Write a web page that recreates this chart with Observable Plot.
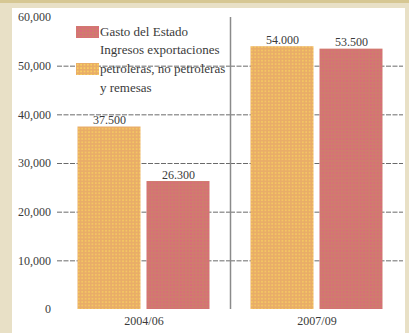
<!DOCTYPE html>
<html>
<head>
<meta charset="utf-8">
<script src="https://cdn.jsdelivr.net/npm/d3@7"></script>
<script src="https://cdn.jsdelivr.net/npm/@observablehq/plot@0.6"></script>
<style>
  html, body { margin: 0; padding: 0; }
  body { width: 409px; height: 333px; background: #e8e0c6; position: relative; overflow: hidden; font-family: "Liberation Serif", "Times New Roman", Tinos, "DejaVu Serif", serif; }
  #topband { position: absolute; left: 0; top: 0; width: 409px; height: 3px; background: #d6c793; }
  #chart { position: absolute; left: 12px; top: 8px; }
  #legend { position: absolute; left: 76px; top: 22px; font-size: 13px; color: #3a3a3a; line-height: 19px; }
  .row { position: relative; padding-left: 24px; white-space: nowrap; }
  .sw { position: absolute; left: 0; width: 23px; height: 12px; }
  .sw.g { top: 4px; background-color: #d07b6e; background-image: radial-gradient(circle, #de6680 0.8px, transparent 1px); background-size: 3.4px 3.4px; }
  .sw.i { top: 4px; background-color: #e9ad68; background-image: radial-gradient(circle, #f7cf60 0.8px, transparent 1px); background-size: 3.4px 3.4px; }
</style>
</head>
<body>
<div id="topband"></div>
<div id="chart"></div>
<div id="legend">
  <div class="row"><span class="sw g"></span>Gasto del Estado</div>
  <div class="row" style="margin-top:-1px">Ingresos exportaciones</div>
  <div class="row"><span class="sw i"></span>petroleras, no petroleras</div>
  <div class="row">y remesas</div>
</div>
<script>
// ---- data ----
const periods = ["2004/06", "2007/09"];
const seriesKeys = ["ingresos", "gasto"];
const seriesNames = ["Ingresos exportaciones petroleras, no petroleras y remesas", "Gasto del Estado"];
const ingresos = [37500, 54000];
const gasto = [26300, 53500];
const yTicks = [0, 10000, 20000, 30000, 40000, 50000, 60000];
const gridTicks = [10000, 20000, 30000, 40000, 50000];

const data = periods.flatMap((p, i) => [
  {period: p, serie: "ingresos", value: ingresos[i]},
  {period: p, serie: "gasto", value: gasto[i]}
]);

// ---- layout ----
const W = 393, H = 325;
const mL = 44.5, mR = 2.5, mT = 9, mB = 24;
const pIn = 0.087, pOut = 0.297;
const facetW = (W - mL - mR) / periods.length;
const step = facetW / (2 - pIn + 2 * pOut);
const sepDx = -(pOut * step + step * (1 - pIn) / 2);

const serif = "'Liberation Serif', 'Times New Roman', Tinos, 'DejaVu Serif', serif";
const fmtAxis = d3.format(",");
const fmtVal = v => d3.format(",")(v).replace(/,/g, ".");

const plot = Plot.plot({
  width: W, height: H,
  marginLeft: mL, marginRight: mR, marginTop: mT, marginBottom: mB,
  style: {background: "white", fontFamily: serif, fontSize: "12px", color: "#333", overflow: "visible"},
  fx: {domain: periods, padding: 0, label: null},
  x: {domain: seriesKeys, paddingInner: pIn, paddingOuter: pOut, axis: null},
  y: {domain: [0, 60000], axis: null},
  color: {type: "ordinal", domain: seriesKeys, range: ["url(#patI)", "url(#patG)"]},
  marks: [
    Plot.ruleY(gridTicks, {stroke: "#6a6a6a", strokeWidth: 1, strokeDasharray: "5,1.5"}),
    Plot.axisY(yTicks, {label: null, tickSize: 0, tickPadding: 6.5, tickFormat: fmtAxis, fontSize: 12, fill: "#3a3a3a"}),
    Plot.axisFx({anchor: "bottom", tickSize: 0, tickPadding: 7, label: null, fontSize: 12, fill: "#3a3a3a"}),
    Plot.ruleX([{period: periods[1], serie: seriesKeys[0]}], {fx: "period", x: "serie", y1: 0, y2: 60000, dx: sepDx, stroke: "#8a8a8a", strokeWidth: 1.5}),
    Plot.barY(data, {fx: "period", x: "serie", y: "value", fill: "serie"}),
    Plot.text(data, {fx: "period", x: "serie", y: "value", text: d => fmtVal(d.value), lineAnchor: "bottom", dy: -3, fontSize: 12, fill: "#3a3a3a"})
  ]
});

// dotted fill patterns
const svg = d3.select(plot);
const defs = svg.insert("defs", ":first-child");
function pat(id, base, dot) {
  const p = defs.append("pattern").attr("id", id).attr("patternUnits", "userSpaceOnUse").attr("width", 3.4).attr("height", 3.4);
  p.append("rect").attr("width", 3.4).attr("height", 3.4).attr("fill", base);
  p.append("circle").attr("cx", 1.7).attr("cy", 1.7).attr("r", 0.85).attr("fill", dot);
}
pat("patI", "#e9ad68", "#f7cf60");
pat("patG", "#d07b6e", "#de6680");

document.getElementById("chart").appendChild(plot);
</script>
</body>
</html>
